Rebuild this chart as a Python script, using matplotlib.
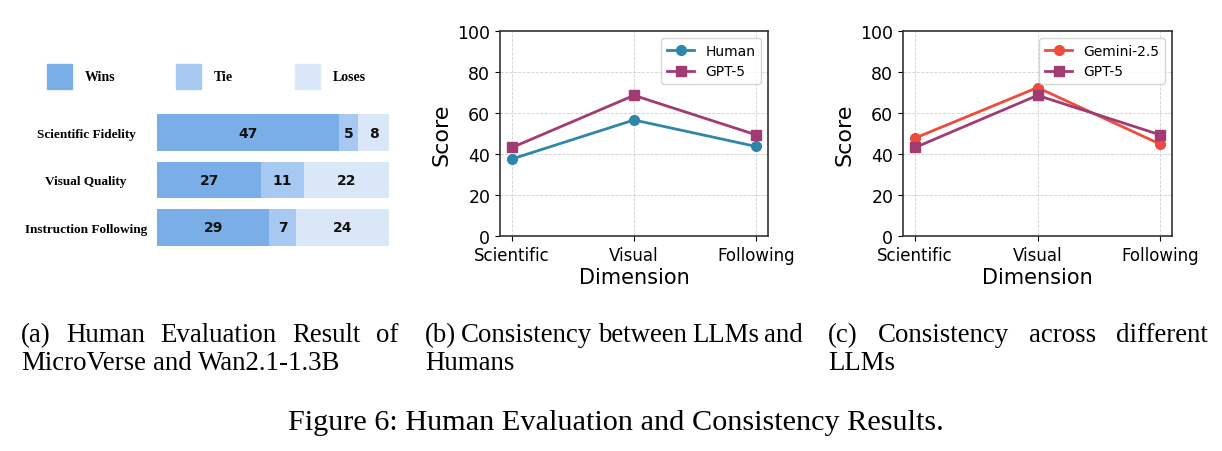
import numpy as np
import matplotlib
matplotlib.use("Agg")
import matplotlib.pyplot as plt
from matplotlib.patches import Rectangle

W, H = 1222, 452

# panel (a) data
categories = ["Scientific Fidelity", "Visual Quality", "Instruction Following"]
wins = [47, 27, 29]
ties = [5, 11, 7]
loses = [8, 22, 24]

# panels (b) and (c) data
dims = ["Scientific", "Visual", "Following"]
human = [37.6, 56.6, 43.7]
gpt5 = [43.2, 68.6, 49.4]
gemini = [47.8, 72.4, 44.9]

c_wins, c_tie, c_lose = "#7aaee6", "#a7c8f1", "#dae7f9"
c_human, c_gpt, c_gem = "#2e86ab", "#a23b72", "#ee4b3a"

fig = plt.figure(figsize=(W / 100, H / 100), dpi=100)


def px_axes(x0, y0, x1, y1):
    # rectangle given in image pixels (top-left origin)
    return fig.add_axes([x0 / W, (H - y1) / H, (x1 - x0) / W, (y1 - y0) / H])


# ---- (a) stacked bars
ax = px_axes(157, 110, 389, 252)
y = np.arange(len(categories))
left = np.zeros(len(categories))
for vals, col in [(wins, c_wins), (ties, c_tie), (loses, c_lose)]:
    bars = ax.barh(y, vals, left=left, color=col, height=0.78)
    for b, v in zip(bars, vals):
        ax.text(b.get_x() + b.get_width() / 2, b.get_y() + b.get_height() / 2, str(v),
                ha="center", va="center", fontsize=10, fontweight="bold", color="#111")
    left += np.array(vals)
ax.set_xlim(0, 60)
ax.set_ylim(2.5, -0.5)
ax.set_yticks(y)
ax.set_yticklabels(categories, family="Liberation Serif", fontweight="bold", fontsize=9.5,
                   ha="center")
ax.tick_params(axis="y", length=0, pad=51)
ax.set_xticks([])
for s in ax.spines.values():
    s.set_visible(False)

# legend row for (a)
lax = px_axes(0, 55, 400, 100)
lax.set_xlim(0, 400)
lax.set_ylim(100, 55)
lax.axis("off")
for x0, col, lab in [(47, c_wins, "Wins"), (176, c_tie, "Tie"), (295, c_lose, "Loses")]:
    lax.add_patch(Rectangle((x0, 65), 25, 25, color=col))
    lax.text(x0 + 38, 77.5, lab, va="center", ha="left", family="Liberation Serif",
             fontweight="bold", fontsize=10)


# ---- (b) and (c) line plots
def line_panel(x0, x1, series):
    a = px_axes(x0, 32, x1, 237)
    xs = np.arange(len(dims))
    for vals, col, mk, lab in series:
        a.plot(xs, vals, color=col, marker=mk, lw=2, ms=7, label=lab)
    a.set_xlim(-0.1, 2.1)
    a.set_ylim(0, 100)
    a.set_xticks(xs)
    a.set_xticklabels(dims, fontsize=12)
    a.set_yticks(range(0, 101, 20))
    a.tick_params(axis="y", labelsize=12.5)
    a.set_xlabel("Dimension", fontsize=15, labelpad=2)
    a.set_ylabel("Score", fontsize=16, labelpad=4)
    a.grid(True, ls="--", lw=0.6, color="#cccccc", alpha=0.9)
    for s in a.spines.values():
        s.set_color("#333333")
        s.set_linewidth(1.2)
    a.legend(loc="upper right", fontsize=10, handlelength=2.0, borderaxespad=0.5)
    return a


line_panel(500, 768, [(human, c_human, "o", "Human"), (gpt5, c_gpt, "s", "GPT-5")])
line_panel(903, 1172, [(gemini, c_gem, "o", "Gemini-2.5"), (gpt5, c_gpt, "s", "GPT-5")])

# ---- captions
fig.canvas.draw()
rend = fig.canvas.get_renderer()
cap_kw = dict(family="Liberation Serif", fontsize=19.4, va="baseline")


def put_line(text, x0, x1, yb, justify=True):
    words = text.split()
    objs = [fig.text(0, 1 - yb / H, w, ha="left", **cap_kw) for w in words]
    widths = [o.get_window_extent(rend).width for o in objs]
    if justify and len(words) > 1:
        gap = (x1 - x0 - sum(widths)) / (len(words) - 1)
    else:
        sp = fig.text(0, 0, "a a", **cap_kw)
        sa = fig.text(0, 0, "aa", **cap_kw)
        gap = sp.get_window_extent(rend).width - sa.get_window_extent(rend).width
        sp.remove()
        sa.remove()
    x = x0
    for o, w in zip(objs, widths):
        o.set_x(x / W)
        x += w + gap


put_line("(a) Human Evaluation Result of", 21, 398, 342)
put_line("MicroVerse and Wan2.1-1.3B", 21, 337, 370, justify=False)
put_line("(b) Consistency between LLMs and", 425, 803, 342)
put_line("Humans", 425, 513, 370, justify=False)
put_line("(c) Consistency across different", 828, 1208, 342)
put_line("LLMs", 828, 900, 370, justify=False)
fig.text(616 / W, 1 - 430 / H, "Figure 6: Human Evaluation and Consistency Results.",
         ha="center", family="Liberation Serif", fontsize=21.8, va="baseline")

fig.savefig("out.png", dpi=100)
